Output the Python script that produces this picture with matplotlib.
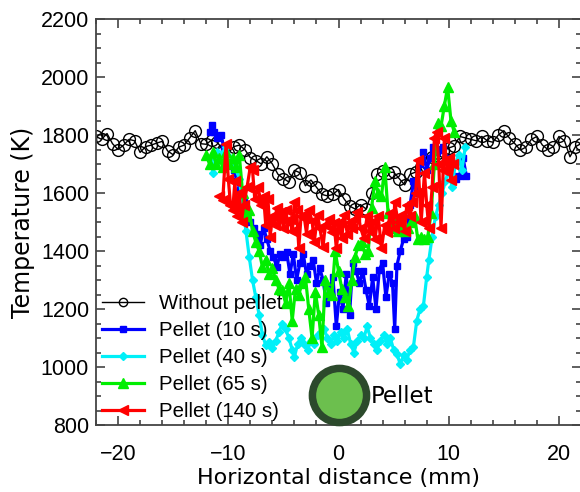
import matplotlib
matplotlib.use("Agg")
import matplotlib.pyplot as plt
from matplotlib.ticker import MultipleLocator

# without pellet (black open circles), x step 0.5 mm
x_ref = [-22.0 + 0.5 * i for i in range(89)]
t_ref = [1795, 1785, 1805, 1770, 1750, 1765, 1785, 1780, 1740, 1760,
         1765, 1772, 1778, 1745, 1732, 1758, 1765, 1790, 1815, 1770,
         1768, 1783, 1775, 1750, 1738, 1760, 1765, 1750, 1722, 1712,
         1700, 1725, 1700, 1665, 1650, 1638, 1678, 1670, 1625, 1645,
         1620, 1595, 1590, 1595, 1612, 1580, 1555, 1545, 1560, 1545,
         1600, 1665, 1675, 1670, 1672, 1650, 1628, 1665, 1672, 1690,
         1705, 1725, 1738, 1745, 1755, 1762, 1795, 1790, 1785, 1780,
         1795, 1780, 1775, 1800, 1815, 1790, 1770, 1748, 1758, 1785,
         1795, 1765, 1750, 1760, 1795, 1780, 1725, 1760, 1770]

# pellet 10 s (blue squares)
x_10 = [-11.7, -11.5, -11.3, -11.0, -10.7, -10.4, -10.1, -9.8, -9.5, -9.2,
        -8.9, -8.6, -8.3, -8.0, -7.7, -7.4, -7.1, -6.8, -6.5, -6.2,
        -5.9, -5.6, -5.3, -5.0, -4.7, -4.4, -4.1, -3.8, -3.5, -3.2,
        -2.9, -2.6, -2.3, -2.0, -1.7, -1.4, -1.1, -0.8, -0.5, -0.2,
        0.1, 0.4, 0.7, 1.0, 1.3, 1.6, 1.9, 2.2, 2.5, 2.8,
        3.1, 3.4, 3.7, 4.0, 4.3, 4.6, 4.9, 5.1, 5.3, 5.6,
        5.9, 6.2, 6.5, 6.8, 7.1, 7.4, 7.7, 8.0, 8.3, 8.6,
        8.9, 9.2, 9.5, 9.8, 10.1, 10.4, 10.7, 11.0, 11.3, 11.6]
t_10 = [1810, 1835, 1810, 1790, 1800, 1760, 1720, 1700, 1680, 1640,
        1610, 1570, 1530, 1500, 1480, 1460, 1420, 1480, 1440, 1400,
        1380, 1345, 1390, 1380, 1395, 1320, 1390, 1300, 1360, 1390,
        1320, 1350, 1370, 1290, 1340, 1300, 1220, 1270, 1310, 1140,
        1260, 1200, 1320, 1180, 1360, 1330, 1290, 1330, 1265, 1210,
        1310, 1200, 1335, 1360, 1240, 1320, 1290, 1130, 1350, 1400,
        1440, 1450, 1560, 1640, 1600, 1700, 1740, 1680, 1720, 1760,
        1740, 1750, 1760, 1720, 1700, 1660, 1650, 1660, 1720, 1660]

# pellet 40 s (cyan diamonds)
x_40 = [-11.6, -11.4, -11.2, -11.0, -10.6, -10.2, -9.8, -9.4, -9.0, -8.7,
        -8.4, -8.1, -7.8, -7.5, -7.2, -6.9, -6.6, -6.3, -6.0, -5.7,
        -5.4, -5.1, -4.8, -4.5, -4.2, -4.0, -3.7, -3.4, -3.1, -2.8,
        -2.5, -2.2, -1.9, -1.6, -1.3, -1.0, -0.7, -0.4, -0.1, 0.2,
        0.5, 0.8, 1.1, 1.4, 1.7, 2.0, 2.3, 2.6, 2.9, 3.2,
        3.5, 3.8, 4.1, 4.4, 4.7, 5.0, 5.3, 5.6, 5.9, 6.2,
        6.5, 6.8, 7.1, 7.4, 7.7, 8.0, 8.2, 8.5, 8.8, 9.1,
        9.4, 9.7, 10.0, 10.3, 10.6, 10.9, 11.2, 11.5]
t_40 = [1720, 1670, 1700, 1740, 1735, 1760, 1720, 1690, 1650, 1560,
        1470, 1380, 1300, 1240, 1180, 1110, 1075, 1085, 1065, 1090,
        1120, 1150, 1130, 1100, 1060, 1035, 1080, 1100, 1080, 1060,
        1090, 1080, 1110, 1120, 1130, 1100, 1080, 1110, 1090, 1120,
        1100, 1130, 1080, 1050, 1090, 1110, 1100, 1140, 1100, 1080,
        1060, 1090, 1110, 1080, 1100, 1060, 1045, 1010, 1040, 1025,
        1060, 1070, 1160, 1200, 1210, 1310, 1370, 1450, 1520, 1560,
        1600, 1640, 1680, 1620, 1700, 1730, 1680, 1760]

# pellet 65 s (green triangles)
x_65 = [-12.0, -11.7, -11.4, -11.1, -10.8, -10.5, -10.2, -9.9, -9.6, -9.3,
        -9.0, -8.7, -8.4, -8.1, -7.8, -7.5, -7.2, -6.9, -6.6, -6.3,
        -6.0, -5.7, -5.4, -5.1, -4.8, -4.5, -4.2, -3.9, -3.6, -3.3,
        -3.0, -2.7, -2.4, -2.1, -1.8, -1.5, -1.2, -0.9, -0.6, -0.3,
        0.0, 0.3, 0.6, 0.9, 1.2, 1.5, 1.8, 2.1, 2.4, 2.7,
        3.0, 3.3, 3.6, 3.9, 4.2, 4.5, 4.8, 5.1, 5.4, 5.7,
        6.0, 6.3, 6.6, 6.9, 7.2, 7.5, 7.8, 8.1, 8.4, 8.7,
        9.0, 9.3, 9.6, 9.9, 10.2, 10.5]
t_65 = [1730, 1700, 1740, 1700, 1720, 1690, 1740, 1700, 1720, 1690,
        1730, 1600, 1520, 1540, 1470, 1430, 1400, 1345, 1370, 1320,
        1340, 1300, 1270, 1265, 1220, 1290, 1160, 1270, 1250, 1290,
        1310, 1200, 1100, 1260, 1180, 1070, 1300, 1260, 1250, 1400,
        1330, 1270, 1240, 1210, 1300, 1380, 1420, 1430, 1390, 1400,
        1550, 1640, 1600, 1590, 1690, 1530, 1480, 1510, 1470, 1490,
        1470, 1480, 1500, 1520, 1440, 1450, 1440, 1450, 1530, 1700,
        1840, 1830, 1900, 1965, 1850, 1810]

# pellet 140 s (red left triangles)
x_140 = [-10.8, -10.5, -10.2, -10.0, -9.8, -9.6, -9.4, -9.2, -9.0, -8.8,
         -8.6, -8.3, -8.0, -7.8, -7.6, -7.3, -7.0, -6.8, -6.6, -6.4,
         -6.2, -6.0, -5.8, -5.6, -5.4, -5.2, -5.0, -4.8, -4.6, -4.4,
         -4.2, -4.0, -3.8, -3.6, -3.4, -3.1, -2.9, -2.7, -2.4, -2.2,
         -1.9, -1.7, -1.4, -1.2, -0.9, -0.6, -0.4, -0.2, 0.1, 0.3,
         0.5, 0.8, 1.0, 1.2, 1.5, 1.7, 2.0, 2.3, 2.6, 2.8,
         3.0, 3.3, 3.6, 3.9, 4.2, 4.4, 4.7, 5.0, 5.1, 5.4,
         5.7, 6.0, 6.2, 6.5, 6.7, 7.0, 7.2, 7.5, 7.8, 8.0,
         8.2, 8.5, 8.7, 8.9, 9.1, 9.3, 9.5, 9.6, 9.8, 10.0,
         10.2, 10.4]
t_140 = [1590, 1575, 1770, 1650, 1560, 1540, 1640, 1520, 1600, 1500,
         1560, 1620, 1690, 1680, 1580, 1620, 1560, 1590, 1490, 1580,
         1450, 1520, 1490, 1550, 1510, 1535, 1480, 1540, 1500, 1510,
         1470, 1570, 1540, 1410, 1520, 1515, 1460, 1540, 1505, 1430,
         1525, 1480, 1415, 1490, 1510, 1465, 1495, 1410, 1500, 1445,
         1525, 1460, 1500, 1480, 1510, 1535, 1480, 1445, 1520, 1470,
         1500, 1440, 1520, 1410, 1490, 1465, 1530, 1480, 1570, 1500,
         1525, 1470, 1560, 1520, 1570, 1600, 1715, 1500, 1670, 1560,
         1480, 1620, 1790, 1810, 1700, 1480, 1680, 1790, 1700, 1720,
         1645, 1700]

label_font = "DejaVu Sans"
tick_font = "Liberation Sans"

fig = plt.figure(figsize=(5.8, 4.92), dpi=100)
ax = fig.add_axes([96 / 580, 67 / 492, 485 / 580, 406 / 492])

ax.plot(x_ref, t_ref, color="black", lw=1.0, marker="o", ms=8.5,
        mfc="none", mec="black", mew=1.0, label="Without pellet")
ax.plot(x_10, t_10, color="#0000ff", lw=2.3, marker="s", ms=4,
        label="Pellet (10 s)")
ax.plot(x_40, t_40, color="#00f0f8", lw=2.3, marker="D", ms=4,
        label="Pellet (40 s)")
ax.plot(x_65, t_65, color="#00ee00", lw=2.3, marker="^", ms=6.5,
        label="Pellet (65 s)")
ax.plot(x_140, t_140, color="#ff0000", lw=2.3, marker="<", ms=6.5,
        label="Pellet (140 s)")

# pellet symbol
ax.scatter([0], [903], s=1521, color="#6cbf4e", edgecolors="#2c4a2c",
           linewidths=5.4, zorder=6, clip_on=False)
ax.text(2.9, 899, "Pellet", fontsize=16.5, family=label_font,
        ha="left", va="center")

ax.set_xlim(-22, 22)
ax.set_ylim(800, 2200)
ax.xaxis.set_major_locator(MultipleLocator(10))
ax.xaxis.set_minor_locator(MultipleLocator(2))
ax.yaxis.set_major_locator(MultipleLocator(200))
ax.yaxis.set_minor_locator(MultipleLocator(50))
ax.tick_params(which="both", direction="in", top=True, right=True,
               color="#444444", width=1.2)
ax.tick_params(which="major", length=6.5, labelsize=15.5, pad=5)
ax.tick_params(axis="x", which="major", pad=13.5)
ax.tick_params(which="minor", length=3.6)
for lab in ax.get_xticklabels() + ax.get_yticklabels():
    lab.set_family(tick_font)
for sp in ax.spines.values():
    sp.set_color("#444444")
    sp.set_linewidth(1.3)

ax.set_xlabel("Horizontal distance (mm)", fontsize=16, family=label_font,
              labelpad=2)
ax.set_ylabel("Temperature (K)", fontsize=17, family=label_font)

leg = ax.legend(loc="upper left", bbox_to_anchor=(0.0, 0.338), frameon=False,
                prop={"family": tick_font, "size": 14.7}, handlelength=2.06,
                handletextpad=0.74, labelspacing=0.39, numpoints=1,
                borderaxespad=0.2, borderpad=0.1)
leg.legend_handles[0].set_markersize(6)

fig.savefig("out.png", dpi=100)
